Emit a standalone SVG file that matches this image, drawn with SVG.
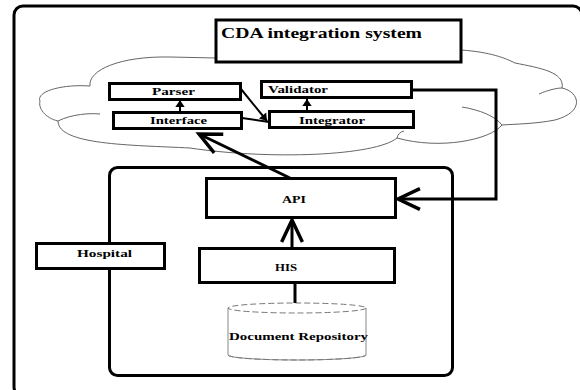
<svg xmlns="http://www.w3.org/2000/svg" width="580" height="390" viewBox="0 0 580 390">
<style>
.box{fill:#fff;stroke:#000;stroke-width:3}
.lbl{font-family:"Liberation Serif","Times New Roman",serif;font-size:11px;font-weight:bold;fill:#000}
.title{font-family:"Liberation Serif","Times New Roman",serif;font-size:15px;font-weight:bold;fill:#000}
.cloud{fill:none;stroke:#666;stroke-width:1}
.conn{fill:none;stroke:#000;stroke-width:3}
.thin{fill:none;stroke:#000;stroke-width:2}
.db{fill:#fff;stroke:#888;stroke-width:1}
.dash{fill:none;stroke:#777;stroke-width:1;stroke-dasharray:6 3}
</style>
<defs>
<marker id="open" markerUnits="userSpaceOnUse" markerWidth="30" markerHeight="30" viewBox="-22 -12 26 24" refX="0" refY="0" orient="auto">
<path d="M -19 -9 L 0 0 L -19 9" fill="none" stroke="#000" stroke-width="3"/>
</marker>
<marker id="small" markerUnits="userSpaceOnUse" markerWidth="14" markerHeight="14" viewBox="-8 -6 10 12" refX="0" refY="0" orient="auto">
<path d="M -6 -4 L 0 0 L -6 4 Z" fill="#000"/>
</marker>
</defs>
<rect width="580" height="390" fill="#fff"/>
<g id="frame">
<rect x="14" y="6" width="568" height="390" rx="9" fill="none" stroke="#000" stroke-width="3"/>
</g>
<g id="cloud">
<path class="cloud" d="M 40 101 C 36 92 60 84 90 86 C 88 70 120 56 170 57 L 216 58 L 461 50 C 490 52 505 58 515 63 C 540 68 565 72 562 88 C 580 92 585 112 555 120 C 535 124 515 124 502 125 C 490 140 440 150 397 138 C 375 156 270 160 190 148 C 130 145 58 145 58 121 C 45 118 38 108 40 101 Z"/>
<path class="cloud" d="M 58 121 C 72 114 90 113 100 114"/>
<path class="cloud" d="M 539 94 C 548 90 557 88 562 88"/>
<path class="cloud" d="M 462 107 C 480 110 495 116 502 125"/>
<path class="cloud" d="M 397 138 C 398 134 400 132 404 131"/>
</g>
<g id="hospital-area">
<rect x="109.5" y="167.5" width="343" height="208" rx="8" fill="none" stroke="#000" stroke-width="3"/>
</g>
<g id="cda">
<rect class="box" x="216" y="20" width="245" height="42"/>
<text class="title" x="221" y="38" textLength="201" lengthAdjust="spacingAndGlyphs">CDA integration system</text>
</g>
<g id="parser">
<rect class="box" x="109.5" y="83.5" width="131" height="16"/>
<text class="lbl" x="152" y="95" textLength="43" lengthAdjust="spacingAndGlyphs">Parser</text>
</g>
<g id="validator">
<rect class="box" x="261.5" y="81.5" width="150" height="16"/>
<text class="lbl" x="268" y="93" textLength="60" lengthAdjust="spacingAndGlyphs">Validator</text>
</g>
<g id="interface">
<rect class="box" x="113.5" y="112.5" width="128" height="16"/>
<text class="lbl" x="150" y="124" textLength="57" lengthAdjust="spacingAndGlyphs">Interface</text>
</g>
<g id="integrator">
<rect class="box" x="269.5" y="111.5" width="144" height="16"/>
<text class="lbl" x="299" y="124" textLength="66" lengthAdjust="spacingAndGlyphs">Integrator</text>
</g>
<g id="api">
<rect class="box" x="206.5" y="178.5" width="189" height="39"/>
<text class="lbl" x="282" y="203" textLength="24" lengthAdjust="spacingAndGlyphs">API</text>
</g>
<g id="his">
<rect class="box" x="199.5" y="248.5" width="195" height="34"/>
<text class="lbl" x="275" y="271" textLength="22" lengthAdjust="spacingAndGlyphs">HIS</text>
</g>
<g id="hospital">
<rect class="box" x="36.5" y="243.5" width="128" height="25"/>
<text class="lbl" x="77" y="257" textLength="55" lengthAdjust="spacingAndGlyphs">Hospital</text>
</g>
<g id="repository">
<path class="db" d="M 228 308 L 228 355 A 69 5 0 0 0 366 355 L 366 308"/>
<ellipse class="dash" cx="297" cy="308" rx="69" ry="5"/>
<path class="dash" d="M 228 355 A 69 5 0 0 0 366 355"/>
<text class="lbl" x="229" y="340" textLength="139" lengthAdjust="spacingAndGlyphs">Document Repository</text>
</g>
<g id="connectors">
<path class="thin" d="M 180 112 L 180 100" marker-end="url(#small)"/>
<path class="thin" d="M 307 111 L 307 99" marker-end="url(#small)"/>
<path class="thin" d="M 241 89 L 267 121" marker-end="url(#small)"/>
<path class="thin" d="M 242 118 L 269 122"/>
<path class="conn" d="M 290 178 L 199 134" marker-end="url(#open)"/>
<path class="conn" d="M 292 248 L 292 220" marker-end="url(#open)"/>
<path class="conn" d="M 412 90 L 496 90 L 496 199 L 398 199" marker-end="url(#open)"/>
<path class="conn" d="M 295 303 L 295 284"/>
</g>
</svg>
